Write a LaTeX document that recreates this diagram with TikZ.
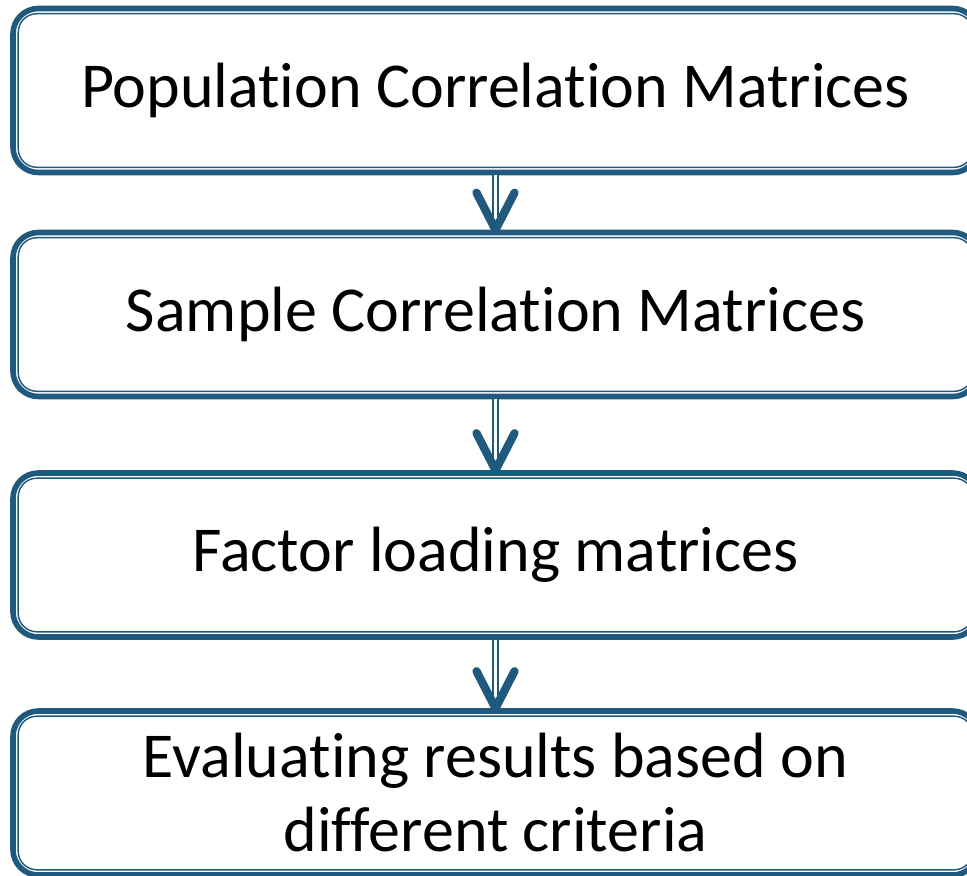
\documentclass[tikz,border=0pt]{standalone}
\usepackage{fontspec}
\setmainfont[Ligatures={NoCommon}]{Carlito}
\usepackage{xcolor}
\definecolor{flowblue}{HTML}{1F5A7E}
\tikzset{
  stage/.style={draw=flowblue, line width=4.2pt, rounded corners=19pt,
    minimum width=723.75pt, minimum height=123pt, inner sep=0pt,
    align=center, font=\fontsize{48pt}{55.5pt}\selectfont},
  rim/.style={draw=flowblue, line width=1.1pt, rounded corners=14pt},
  shaft/.style={draw=flowblue, line width=1.5pt, double=white, double distance=2.4pt},
  chevron/.style={draw=flowblue, line width=6.2pt, line cap=round, line join=round}
}
\begin{document}
\begin{tikzpicture}[x=0.75pt, y=-0.75pt]
  \useasboundingbox (0,0) rectangle (967,875);
  \clip (0,0) rectangle (967,875);
  % the four stages
  \node[stage] (pop) at (495.5,90.5) {Population Correlation Matrices};
  \node[stage] (smp) at (495.5,314.5) {Sample Correlation Matrices};
  \node[stage] (fac) at (495.5,555) {Factor loading matrices};
  \node[stage] (eval) at (495.5,793) {Evaluating results based on\\different criteria};
  \foreach \b in {pop,smp,fac,eval}
    \draw[rim] ([shift={(8,8)}]\b.north west) rectangle ([shift={(-8,-8)}]\b.south east);
  % arrows between stages
  \foreach \a/\b in {pop/smp,smp/fac,fac/eval}{
    \draw[shaft] (\a.south) -- ([yshift=1.5pt]\b.north);
    \draw[chevron] ([shift={(-19,-37)}]\b.north) -- (\b.north) -- ([shift={(19,-37)}]\b.north);
  }
\end{tikzpicture}
\end{document}
